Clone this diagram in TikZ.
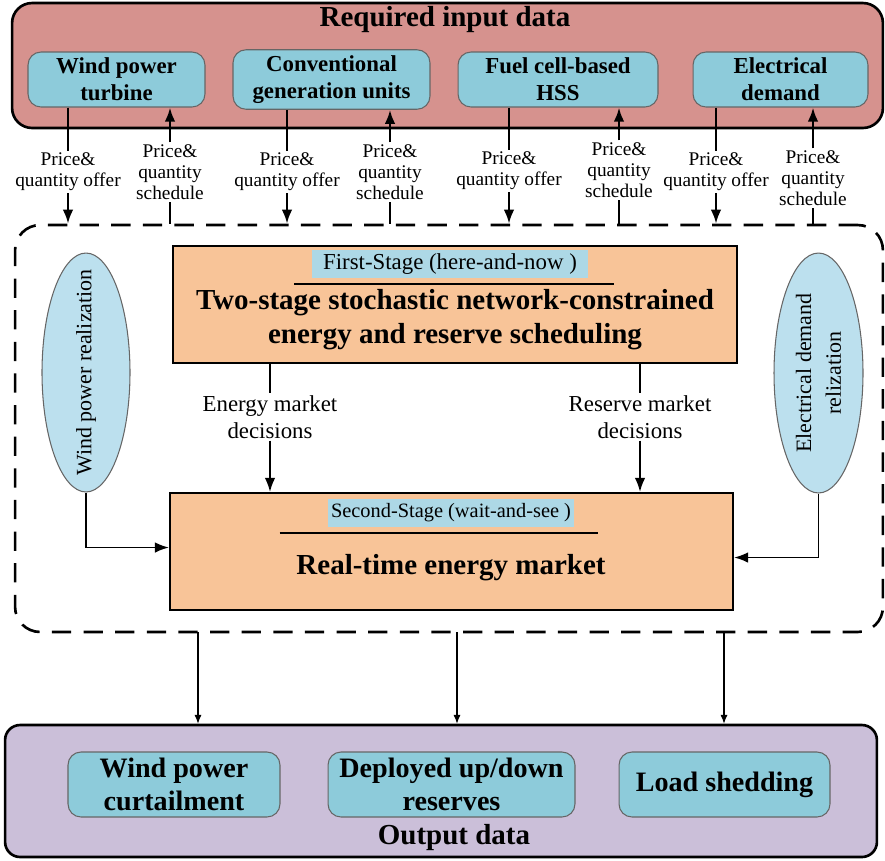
\documentclass[tikz,border=0pt]{standalone}
\usepackage{fontspec}
\setmainfont{Liberation Serif}
\usepackage{tikz}
\usetikzlibrary{shapes.geometric, arrows.meta}

\definecolor{inred}{RGB}{214,146,142}
\definecolor{unitblue}{RGB}{141,203,218}
\definecolor{stageorange}{RGB}{248,196,152}
\definecolor{tagblue}{RGB}{173,216,230}
\definecolor{realblue}{RGB}{188,224,238}
\definecolor{outpurple}{RGB}{203,191,217}

\begin{document}
\begin{tikzpicture}[x=0.02cm, y=-0.02cm,
    databox/.style={draw=black, line width=1.5pt, rounded corners=0.4cm},
    unit/.style={draw=black!60, line width=0.6pt, fill=unitblue, rounded corners=0.26cm,
                 minimum height=1.1cm, align=center, font=\fontsize{13}{15.3}\selectfont\bfseries},
    bigline/.style={line width=1.4pt},
    bigarrow/.style={line width=1.4pt, -{Latex[length=8pt,width=6pt]}},
    midline/.style={line width=1.1pt},
    midarrow/.style={line width=1.1pt, -{Latex[length=8pt,width=6pt]}},
    smallarrow/.style={line width=0.6pt, -{Latex[length=5pt,width=4pt]}},
    bid/.style={inner sep=1pt, align=center, font=\fontsize{11}{12}\selectfont},
    stagebox/.style={draw=black, line width=1.2pt, fill=stageorange, minimum height=2.34cm},
    tag/.style={fill=tagblue, minimum height=0.56cm, inner sep=0pt},
    uline/.style={line width=1.2pt},
    bigtext/.style={align=center, font=\fontsize{16.5}{19.3}\selectfont\bfseries},
    realize/.style={ellipse, draw=black!60, line width=0.6pt, fill=realblue, inner sep=0pt},
    realtext/.style={rotate=90, align=center, font=\fontsize{12.5}{17}\selectfont},
    decision/.style={inner sep=1pt, align=center, font=\fontsize{13}{15.3}\selectfont},
    result/.style={draw=black!60, line width=0.6pt, fill=unitblue, rounded corners=0.26cm,
                   minimum height=1.3cm, align=center, font=\fontsize{16}{18.7}\selectfont\bfseries}]

    \useasboundingbox (0,0) rectangle (885,860);

    % input data
    \node[databox, fill=inred, minimum width=17.42cm, minimum height=2.5cm] (input) at (447.5,65.5) {};
    \node[bigtext] (intitle) at (445,20) {Required input data};
    \node[unit, minimum width=3.54cm] (wpt) at (116.5,79.5) {Wind power\\turbine};
    \node[unit, minimum width=3.94cm] (cgu) at (331.5,79.5) {Conventional\\generation units};
    \node[unit, minimum width=4.0cm]  (fch) at (558,79.5) {Fuel cell-based\\HSS};
    \node[unit, minimum width=3.5cm]  (edm) at (780.5,79.5) {Electrical\\demand};

    % two-stage model
    \node[draw, line width=1.5pt, dash pattern=on 11pt off 7pt, rounded corners=0.5cm,
          minimum width=17.36cm, minimum height=8.14cm] (stages) at (449,428.5) {};

    \node[stagebox, minimum width=11.28cm] (fs) at (455,304.5) {};
    \node[tag, minimum width=5.54cm, font=\fontsize{13}{15}\selectfont] (fstag) at (450,264) {First-Stage (here-and-now )};
    \draw[uline] ([xshift=-0.34cm,yshift=-0.12cm]fstag.south west) -- ([xshift=0.5cm,yshift=-0.12cm]fstag.south east);
    \node[bigtext] (fstext) at (455,320) {Two-stage stochastic network-constrained\\energy and reserve scheduling};

    \node[stagebox, minimum width=11.26cm] (rt) at (451.5,551.5) {};
    \node[tag, minimum width=4.92cm, font=\fontsize{11.6}{14}\selectfont] (rttag) at (451,513) {Second-Stage (wait-and-see )};
    \draw[uline] ([xshift=-0.96cm,yshift=-0.12cm]rttag.south west) -- ([xshift=0.48cm,yshift=-0.12cm]rttag.south east);
    \node[bigtext] (rttext) at (451,568) {Real-time energy market};

    \node[realize, minimum width=1.76cm, minimum height=4.78cm] (wpr) at (86,372.5) {};
    \node[realtext] (wprtext) at (wpr) {Wind power realization};
    \node[realize, minimum width=1.78cm, minimum height=4.8cm] (edr) at (818.5,373) {};
    \node[realtext] (edrtext) at (edr) {Electrical demand\\relization};

    % offers and schedules
    \node[bid] (off1) at (68,172)  {Price\&\\quantity offer};
    \node[bid] (sch1) at (170,172) {Price\&\\quantity\\schedule};
    \node[bid] (off2) at (287,172) {Price\&\\quantity offer};
    \node[bid] (sch2) at (390,172) {Price\&\\quantity\\schedule};
    \node[bid] (off3) at (509,171) {Price\&\\quantity offer};
    \node[bid] (sch3) at (619,170) {Price\&\\quantity\\schedule};
    \node[bid] (off4) at (716,172) {Price\&\\quantity offer};
    \node[bid] (sch4) at (813,178) {Price\&\\quantity\\schedule};

    \draw[bigline] (wpt.south -| off1) -- (off1.north);
    \draw[bigarrow] (off1.south) -- (off1 |- stages.north);
    \draw[bigline] (stages.north -| sch1) -- (sch1.south);
    \draw[bigarrow] (sch1.north) -- (sch1 |- wpt.south);

    \draw[bigline] (cgu.south -| off2) -- (off2.north);
    \draw[bigarrow] (off2.south) -- (off2 |- stages.north);
    \draw[bigline] (stages.north -| sch2) -- (sch2.south);
    \draw[bigarrow] (sch2.north) -- (sch2 |- cgu.south);

    \draw[bigline] (fch.south -| off3) -- (off3.north);
    \draw[bigarrow] (off3.south) -- (off3 |- stages.north);
    \draw[bigline] (stages.north -| sch3) -- (sch3.south);
    \draw[bigarrow] (sch3.north) -- (sch3 |- fch.south);

    \draw[bigline] (edm.south -| off4) -- (off4.north);
    \draw[bigarrow] (off4.south) -- (off4 |- stages.north);
    \draw[bigline] (stages.north -| sch4) -- (sch4.south);
    \draw[bigarrow] (sch4.north) -- (sch4 |- edm.south);

    % decisions
    \node[decision] (emd) at (270,417) {Energy market\\decisions};
    \node[decision] (rmd) at (640,417) {Reserve market\\decisions};
    \draw[midline] (fs.south -| emd) -- (emd.north);
    \draw[midarrow] (emd.south) -- (emd |- rt.north);
    \draw[midline] (fs.south -| rmd) -- (rmd.north);
    \draw[midarrow] (rmd.south) -- (rmd |- rt.north);

    \draw[midarrow] (wpr.south) |- ([yshift=0.08cm]rt.west);
    \draw[midarrow] (edr.south) |- ([yshift=-0.12cm]rt.east);

    % output data
    \node[databox, rounded corners=0.3cm, fill=outpurple, minimum width=17.44cm, minimum height=2.64cm] (out) at (441,791) {};
    \node[bigtext] (outtitle) at (454,838) {Output data};
    \node[result, minimum width=4.24cm] (wpc) at (174,784.5) {Wind power\\curtailment};
    \node[result, minimum width=4.94cm] (dud) at (451.5,784.5) {Deployed up/down\\reserves};
    \node[result, minimum width=4.22cm] (ls)  at (724.5,784.5) {Load shedding};

    \coordinate (d1) at (198,632);
    \coordinate (d2) at (457,632);
    \coordinate (d3) at (724,632);
    \draw[smallarrow] (d1) -- (d1 |- out.north);
    \draw[smallarrow] (d2) -- (d2 |- out.north);
    \draw[smallarrow] (d3) -- (d3 |- out.north);
\end{tikzpicture}
\end{document}
